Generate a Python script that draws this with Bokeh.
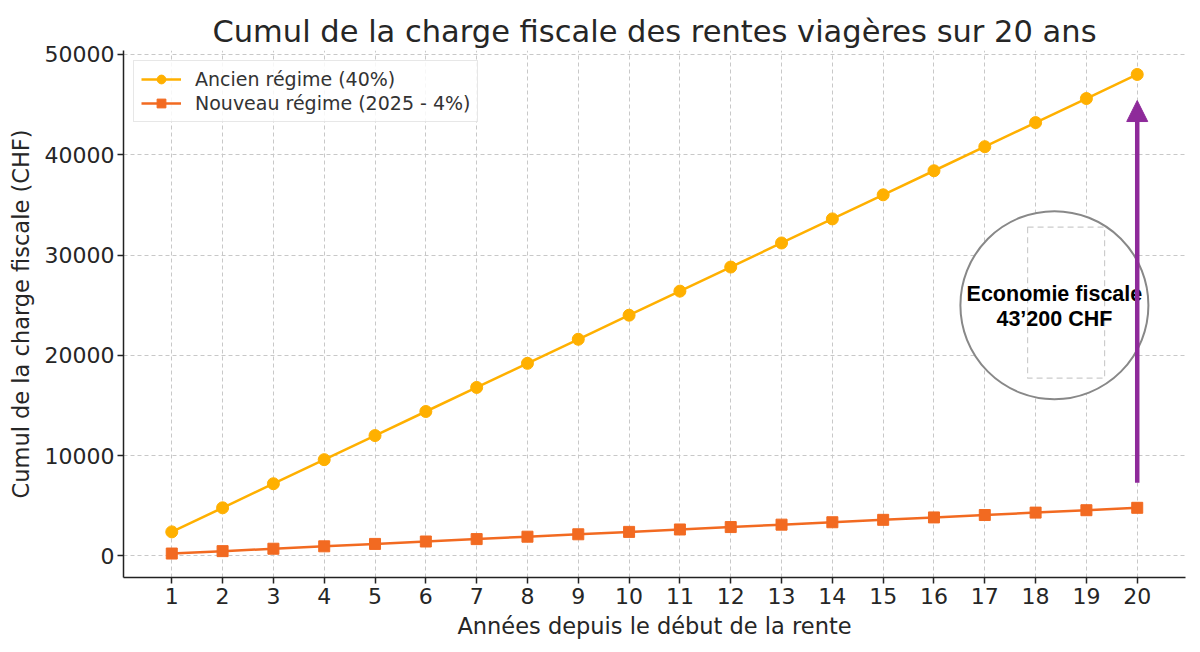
from bokeh.plotting import figure
from bokeh.models import Range1d, FixedTicker, Arrow, NormalHead, Legend, LegendItem
from bokeh.core.properties import value
from bokeh.embed import file_html
from bokeh.resources import INLINE

years = [1, 2, 3, 4, 5, 6, 7, 8, 9, 10, 11, 12, 13, 14, 15, 16, 17, 18, 19, 20]
ancien = [2400, 4800, 7200, 9600, 12000, 14400, 16800, 19200, 21600, 24000,
          26400, 28800, 31200, 33600, 36000, 38400, 40800, 43200, 45600, 48000]
nouveau = [240, 480, 720, 960, 1200, 1440, 1680, 1920, 2160, 2400,
           2640, 2880, 3120, 3360, 3600, 3840, 4080, 4320, 4560, 4800]
y_ticks = [0, 10000, 20000, 30000, 40000, 50000]
label_ancien = "Ancien régime (40%)"
label_nouveau = "Nouveau régime (2025 - 4%)"
title_text = "Cumul de la charge fiscale des rentes viagères sur 20 ans"
xlabel = "Années depuis le début de la rente"
ylabel = "Cumul de la charge fiscale (CHF)"
note_lines = ["Economie fiscale", "43\u2019200 CHF"]
arrow_start = 7300
arrow_end = 45400
note_x = 18.37
note_y = 25000

FONT = "DejaVu Sans"
C_ANC = "#FFB000"
C_NOU = "#F26A21"
C_ARROW = "#8E2A9A"
TXT = "#262626"

p = figure(width=1200, height=652, output_backend="svg", toolbar_location=None,
           x_range=Range1d(0.05, 20.95), y_range=Range1d(-2148, 50388),
           min_border_left=123, min_border_right=15, min_border_top=50, min_border_bottom=75)

p.title.text = title_text
p.title.align = "center"
p.title.text_font = FONT
p.title.text_font_size = "30.5px"
p.title.text_font_style = "normal"
p.title.text_color = TXT
p.title.offset = 0
p.title.standoff = 3

p.outline_line_color = None
p.background_fill_color = "white"

for ax in (p.xaxis, p.yaxis):
    ax.axis_line_color = "#222222"
    ax.axis_line_width = 1.5
    ax.major_tick_line_color = "#222222"
    ax.major_tick_line_width = 1.5
    ax.major_tick_out = 6
    ax.major_tick_in = 0
    ax.minor_tick_line_color = None
    ax.major_label_text_font = FONT
    ax.major_label_text_font_size = "22px"
    ax.major_label_text_color = TXT
    ax.axis_label_text_font = FONT
    ax.axis_label_text_font_size = "22.5px"
    ax.axis_label_text_font_style = "normal"
    ax.axis_label_text_color = TXT

p.xaxis.ticker = FixedTicker(ticks=years)
p.yaxis.ticker = FixedTicker(ticks=y_ticks)
p.xaxis.axis_label = xlabel
p.yaxis.axis_label = ylabel
p.xaxis.major_label_standoff = 4
p.yaxis.major_label_standoff = 3
p.xaxis.axis_label_standoff = 6
p.yaxis.axis_label_standoff = 8

for g in (p.xgrid, p.ygrid):
    g.grid_line_color = "#c8c8c8"
    g.grid_line_dash = "4 3"
    g.grid_line_width = 1
p.xgrid.ticker = FixedTicker(ticks=years)
p.ygrid.ticker = FixedTicker(ticks=y_ticks)

l1 = p.line(years, ancien, line_color=C_ANC, line_width=2.5)
m1 = p.scatter(years, ancien, marker="circle", size=12, fill_color=C_ANC, line_color=C_ANC)
l2 = p.line(years, nouveau, line_color=C_NOU, line_width=2.5)
m2 = p.scatter(years, nouveau, marker="square", size=11, fill_color=C_NOU, line_color=C_NOU)

# annotation circle
p.scatter([note_x], [note_y], marker="circle", size=188, fill_color="white",
          line_color="#888888", line_width=2)
p.rect([18.6], [25250], width=77, height=151, width_units="screen", height_units="screen",
       fill_color=None, line_color="#cccccc", line_dash="6 4", line_width=1.2)

p.add_layout(Arrow(end=NormalHead(size=21, fill_color=C_ARROW, line_color=C_ARROW),
                   x_start=years[-1], y_start=arrow_start, x_end=years[-1], y_end=arrow_end,
                   line_color=C_ARROW, line_width=4.5))

p.text([note_x, note_x], [note_y + 1150, note_y - 1350], text=note_lines,
       text_font=value("Liberation Sans"), text_font_style="bold", text_font_size="21.5px",
       text_color="black", text_align="center", text_baseline="middle")

legend = Legend(items=[LegendItem(label=label_ancien, renderers=[l1, m1]),
                       LegendItem(label=label_nouveau, renderers=[l2, m2])],
                location="top_left")
legend.margin = 10
legend.padding = 7
legend.spacing = 2
legend.label_text_font = FONT
legend.label_text_font_size = "19px"
legend.label_text_color = "#333333"
legend.glyph_width = 40
legend.glyph_height = 22
legend.label_standoff = 14
legend.border_line_color = "#d0d0d0"
legend.border_line_width = 1.2
legend.background_fill_alpha = 0.85
p.add_layout(legend, "center")

open("out.html", "w").write(file_html(p, INLINE))
